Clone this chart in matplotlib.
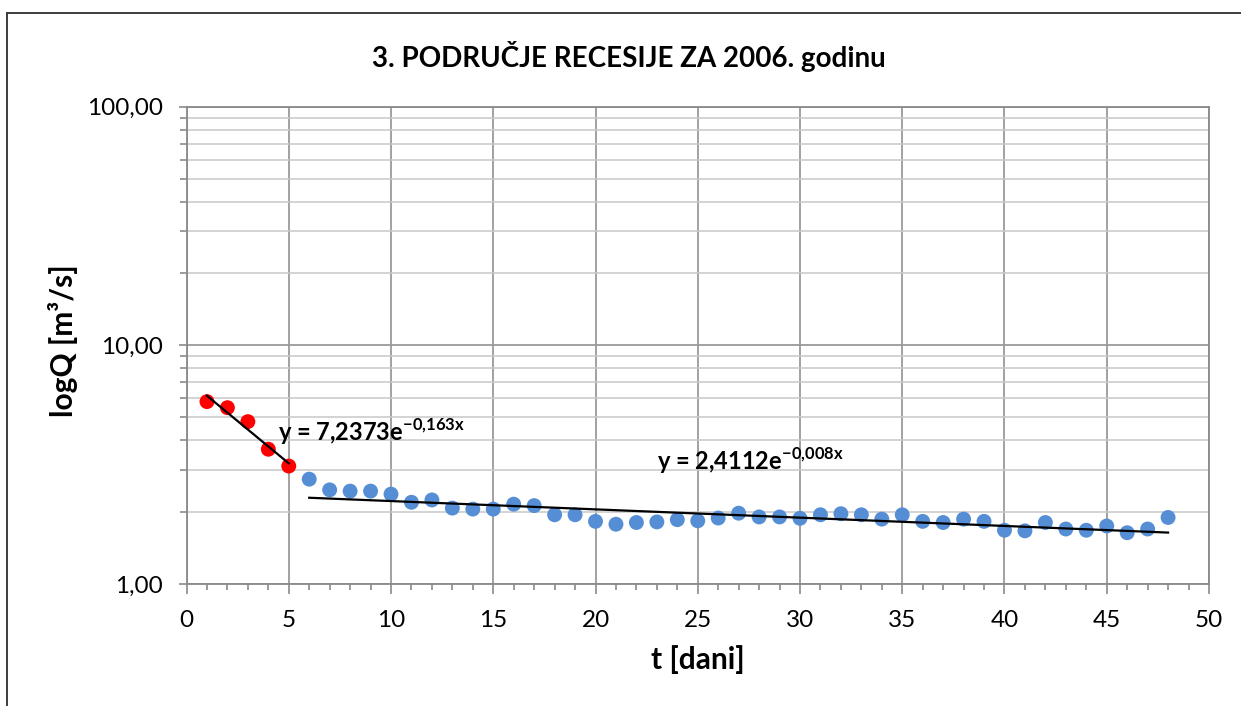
import numpy as np
import matplotlib.pyplot as plt
from matplotlib.patches import Rectangle
from matplotlib.ticker import FixedLocator, FuncFormatter, LogLocator, NullFormatter

plt.rcParams['font.family'] = ['Lato', 'DejaVu Sans']
plt.rcParams['mathtext.fontset'] = 'custom'
plt.rcParams['mathtext.rm'] = 'Lato'
plt.rcParams['mathtext.bf'] = 'Lato:bold'

# Recession data: t [days], Q [m3/s]
t_fast = [1, 2, 3, 4, 5]
q_fast = [5.81, 5.48, 4.79, 3.67, 3.12]

t_slow = list(range(6, 49))
q_slow = [2.75, 2.48, 2.45, 2.45, 2.38, 2.20, 2.25, 2.08, 2.06, 2.06,
          2.16, 2.13, 1.95, 1.95, 1.83, 1.78, 1.81, 1.82, 1.86, 1.84,
          1.89, 1.98, 1.91, 1.91, 1.885, 1.95, 1.97, 1.95, 1.87, 1.95,
          1.83, 1.81, 1.87, 1.83, 1.68, 1.67, 1.81, 1.70, 1.68, 1.75,
          1.64, 1.70, 1.90]

# exponential trendline coefficients  y = a * exp(b x)
a_fast, b_fast = 7.2373, -0.163
a_slow, b_slow = 2.4112, -0.008

fig = plt.figure(figsize=(12.41, 7.06), dpi=100)
ax = fig.add_axes([0.1503, 0.1728, 0.8239, 0.6761])

grid_major = '#9a9a9a'
grid_minor = '#c8c8c8'

ax.set_yscale('log')
ax.set_xlim(0, 50)
ax.set_ylim(1, 100)

ax.xaxis.set_major_locator(FixedLocator(np.arange(0, 51, 5)))
ax.xaxis.set_minor_locator(FixedLocator(np.arange(0, 51, 1)))
ax.yaxis.set_major_locator(LogLocator(base=10))
ax.yaxis.set_minor_locator(LogLocator(base=10, subs=np.arange(2, 10)))
ax.yaxis.set_minor_formatter(NullFormatter())
ax.yaxis.set_major_formatter(FuncFormatter(lambda v, p: f'{v:.2f}'.replace('.', ',')))

ax.grid(True, which='major', axis='both', color=grid_major, lw=1.3, zorder=0)
ax.grid(True, which='minor', axis='y', color=grid_minor, lw=1.1, zorder=0)
ax.set_axisbelow(True)

for side in ax.spines.values():
    side.set_color('#8a8a8a')
    side.set_linewidth(1.3)

ax.tick_params(axis='both', which='both', color='#8a8a8a', width=1.2,
               labelsize=17.5, labelcolor='black')
ax.tick_params(axis='x', which='major', direction='out', length=7, pad=12)
ax.tick_params(axis='x', which='minor', direction='out', length=4)
ax.tick_params(axis='y', which='major', direction='out', length=6, pad=11)
ax.tick_params(axis='y', which='minor', direction='out', length=5)

ax.scatter(t_slow, q_slow, s=115, color='#558ED5', edgecolors='none', zorder=3)
ax.scatter(t_fast, q_fast, s=115, color='#FF0000', edgecolors='none', zorder=3)

xf = np.array([t_fast[0], t_fast[-1]], dtype=float)
xs = np.linspace(t_slow[0], t_slow[-1], 50)
ax.plot(xf, a_fast * np.exp(b_fast * xf), color='black', lw=1.6, zorder=4)
ax.plot(xs, a_slow * np.exp(b_slow * xs), color='black', lw=1.6, zorder=4)

ax.text(4.45, 4.34, r'y = 7,2373e$^{\mathbf{-0{,}163x}}$', fontsize=17, fontweight='bold',
        va='center', ha='left', zorder=5)
ax.text(23.0, 3.28, r'y = 2,4112e$^{\mathbf{-0{,}008x}}$', fontsize=17, fontweight='bold',
        va='center', ha='left', zorder=5)

fig.text(629 / 1241, 1 - 57 / 706, '3. PODRUČJE RECESIJE ZA 2006. godinu',
         fontsize=20, fontweight='bold', ha='center', va='center')
ax.set_xlabel('t [dani]', fontsize=21.5, fontweight='bold', labelpad=10)
ax.set_ylabel('logQ [m³/s]', fontsize=21.5, fontweight='bold', va='center')
ax.yaxis.set_label_coords(-0.1207, 0.51)

# chart frame
fig.patches.append(Rectangle((7 / 1241, -0.1), 1.2, (706 - 13) / 706 + 0.1,
                             transform=fig.transFigure, fill=False,
                             edgecolor='#3c3c3c', lw=1.4))

fig.savefig('out.png', dpi=100)
